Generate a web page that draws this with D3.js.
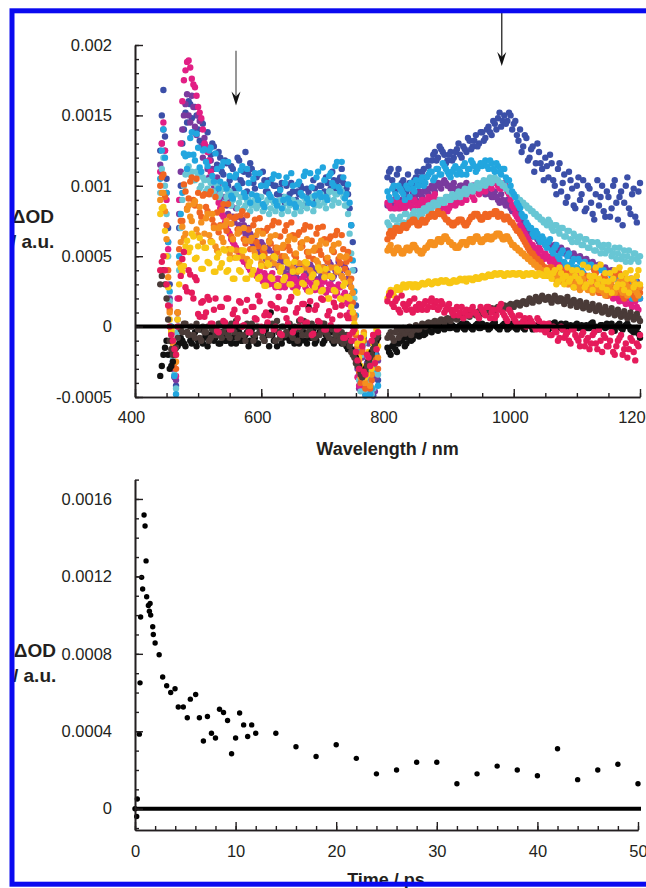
<!DOCTYPE html>
<html>
<head>
<meta charset="utf-8">
<script src="https://cdn.jsdelivr.net/npm/d3@7"></script>
<style>
  html, body { margin: 0; padding: 0; background: #fff; }
  svg { display: block; font-family: "Liberation Sans", Arial, Helvetica, sans-serif; }
</style>
</head>
<body>
<svg id="fig" width="646" height="888"></svg>
<script>
// ΔOD values below are given in units of 1e-5
const UNIT = 1e-5;

// Wavelength sampling of the two detector windows (nm); "B" grids are the interleaved pixels
const visWl = [
  440,445,450,455,460,465,470,475,480,485, 490,495,500,505,510,515,520,525,530,535,
  540,545,550,555,560,565,570,575,580,585, 590,595,600,605,610,615,620,625,630,635,
  640,645,650,655,660,665,670,675,680,685, 690,695,700,705,710,715,720,725,730,735,
  740,745,750,755,760,765,770,775,780,785];
const visWlB = [
  442.5,447.5,452.5,457.5,462.5,467.5,472.5,477.5,482.5,487.5, 492.5,497.5,502.5,507.5,512.5,517.5,522.5,527.5,532.5,537.5,
  542.5,547.5,552.5,557.5,562.5,567.5,572.5,577.5,582.5,587.5, 592.5,597.5,602.5,607.5,612.5,617.5,622.5,627.5,632.5,637.5,
  642.5,647.5,652.5,657.5,662.5,667.5,672.5,677.5,682.5,687.5, 692.5,697.5,702.5,707.5,712.5,717.5,722.5,727.5,732.5,737.5,
  742.5,747.5,752.5,757.5,762.5,767.5,772.5,777.5,782.5];
const nirWl = [
  800,805,810,815,820,825,830,835,840,845, 850,855,860,865,870,875,880,885,890,895,
  900,905,910,915,920,925,930,935,940,945, 950,955,960,965,970,975,980,985,990,995,
  1000,1005,1010,1015,1020,1025,1030,1035,1040,1045, 1050,1055,1060,1065,1070,1075,1080,1085,1090,1095,
  1100,1105,1110,1115,1120,1125,1130,1135,1140,1145, 1150,1155,1160,1165,1170,1175,1180,1185,1190,1195,
  1200];
const nirWlB = [
  802.5,807.5,812.5,817.5,822.5,827.5,832.5,837.5,842.5,847.5, 852.5,857.5,862.5,867.5,872.5,877.5,882.5,887.5,892.5,897.5,
  902.5,907.5,912.5,917.5,922.5,927.5,932.5,937.5,942.5,947.5, 952.5,957.5,962.5,967.5,972.5,977.5,982.5,987.5,992.5,997.5,
  1002.5,1007.5,1012.5,1017.5,1022.5,1027.5,1032.5,1037.5,1042.5,1047.5, 1052.5,1057.5,1062.5,1067.5,1072.5,1077.5,1082.5,1087.5,1092.5,1097.5,
  1102.5,1107.5,1112.5,1117.5,1122.5,1127.5,1132.5,1137.5,1142.5,1147.5, 1152.5,1157.5,1162.5,1167.5,1172.5,1177.5,1182.5,1187.5,1192.5,1197.5];

// Transient spectra, one colour per delay
const seriesColors = ["#3b4fa8","#7a3a9e","#e21f85","#68c6d4","#22a6df",
                      "#f06522","#f5901f","#f8c714","#111111","#4a3b38","#e51b5b"];

const visDarkBlue = [125,168,105,30,-25,-42,70,130,152,160, 148,156,140,146,130,138,122,128,115,120,
  108,116,104,112,106,118,102,124,108,112, 98,108,100,104,96,102,100,94,98,92,
  100,94,96,90,94,98,92,96,90,98, 94,100,96,102,98,104,100,106,102,98, 84,60,15,-34,-10,-46,-24,-48,-14,-38];
const visDarkBlueB = [150,135,70,0,-35,10,100,140,145,158, 138,150,132,144,126,118,130,112,124,110,
  118,100,114,98,120,104,110,96,116,102, 106,92,110,96,104,90,100,94,102,88,
  92,102,88,96,100,86,98,92,104,90, 100,92,106,96,110,98,104,112,96,94, 72,40,-22,-44,-8,-40,-30,-49,-20];
const nirDarkBlue = [106,112,100,108,98,104,96,102,100,106, 102,110,106,114,118,124,120,126,122,118,
  124,120,126,122,128,124,132,128,136,130, 138,134,142,136,144,148,142,150,146,150,
  144,136,140,128,134,120,128,116,124,112, 120,106,116,100,112,96,108,92,104,86,
  100,90,104,84,98,80,94,86,100,78, 92,84,104,76,96,88,106,80,98,74, 102];
const nirDarkBlueB = [110,104,96,112,102,100,108,98,104,110, 106,112,118,110,122,118,128,124,116,122,
  118,124,130,120,126,134,126,132,128,138, 132,140,138,146,140,152,146,144,152,140,
  146,132,124,136,118,126,110,130,116,104, 114,122,104,94,116,102,88,110,98,84,
  106,94,82,100,88,76,104,92,82,96, 78,100,88,92,72,100,84,94,78,96];

const visPurple = [115,140,95,20,-30,-38,80,140,158,150, 164,142,150,128,134,112,118,100,106,92,
  98,86,90,78,84,72,76,66,70,60, 64,56,60,50,56,46,52,44,48,40,
  46,38,44,36,42,34,40,36,42,34, 40,36,42,38,44,36,42,38,44,40, 30,10,-16,-44,-22,-48,-12,-38,-46,-24];
const visPurpleB = [130,125,60,-5,-36,5,110,150,165,145, 156,136,146,120,126,106,112,96,100,88,
  92,80,86,74,78,68,72,62,66,58, 60,52,58,48,54,44,50,42,46,38,
  42,36,40,34,44,32,38,44,36,40, 34,42,38,46,34,40,46,36,42,34, 22,0,-30,-8,-46,-26,-42,-18,-36];
const nirPurple = [86,90,84,88,90,86,92,88,94,90, 96,92,98,94,100,96,102,98,104,100,
  98,102,96,100,98,102,96,100,98,96, 100,94,98,92,96,90,94,88,90,84,
  86,80,78,74,70,68,64,66,60,62, 58,60,56,58,54,56,52,54,50,52,
  48,50,46,48,44,46,42,44,40,42, 38,40,36,38,34,36,32,34,30,32, 28];
const nirPurpleB = [88,86,90,84,88,90,86,92,90,94, 94,96,96,98,98,100,100,102,102,100,
  100,98,98,100,100,98,98,100,96,98, 96,96,94,92,92,88,90,86,88,82,
  82,80,76,72,68,66,66,62,60,60, 58,58,56,56,54,54,52,52,50,50,
  48,48,46,46,44,44,42,42,40,40, 38,38,36,36,34,34,32,32,30,30];

const visMagenta = [110,145,90,15,-20,-35,90,160,182,189, 176,170,156,148,130,124,110,102,92,84,
  78,72,66,60,56,52,48,46,42,40, 38,36,34,38,32,36,30,34,28,32,
  30,34,28,32,30,34,28,32,30,26, 30,28,32,26,30,28,24,28,22,18, 10,0,-24,-42,-16,-36,-46,-20,-30,-8];
const visMagentaB = [130,125,55,-5,-30,20,130,175,188,184, 172,164,152,140,128,118,106,96,88,80,
  74,68,62,58,54,50,46,44,40,38, 36,40,32,36,30,38,28,34,32,28,
  36,30,34,28,32,36,26,34,28,32, 26,32,24,30,26,22,30,20,24,16, 6,-10,-36,-12,-44,-28,-40,-6,-22];
const nirMagenta = [88,84,90,86,84,88,86,90,84,88, 86,90,88,92,90,94,90,84,88,82,
  86,90,88,92,94,90,96,92,98,94, 100,96,102,98,104,100,98,102,96,90,
  84,78,72,68,64,60,58,54,56,50, 52,48,50,44,46,40,44,38,42,36,
  40,34,38,30,36,28,34,26,32,24, 30,22,28,20,26,18,24,16,22,14, 20];
const nirMagentaB = [86,90,84,88,86,84,88,86,90,86, 88,86,90,88,92,86,82,86,84,84,
  88,86,90,88,92,94,94,90,96,96, 98,100,100,102,102,98,100,100,94,86,
  80,76,70,66,62,58,56,52,54,48, 50,46,48,42,44,38,42,36,40,34,
  38,32,36,28,34,26,32,24,30,22, 26,20,24,18,22,16,20,14,18,12];

const visCyan = [95,120,80,18,-22,-44,40,90,108,114, 110,104,108,100,104,98,102,96,100,94,
  98,92,96,90,94,88,92,86,90,86, 90,86,92,84,90,84,88,86,90,84,
  88,86,90,84,88,86,90,88,92,86, 90,94,88,92,96,90,94,98,92,86, 66,40,0,-38,-20,-45,-30,-48,-14,-34];
const visCyanB = [112,100,50,-4,-34,-4,70,100,112,108, 104,110,98,106,96,104,94,102,92,98,
  88,96,86,94,84,92,84,90,82,88, 84,92,82,88,80,90,82,88,80,92,
  82,90,80,88,82,92,84,90,82,94, 86,92,84,96,86,94,88,96,86,80, 52,20,-26,-46,-12,-40,-24,-44,-32];
const nirCyan = [74,70,76,72,78,74,80,76,80,78, 82,80,84,86,84,88,86,90,88,92,
  90,92,94,92,96,94,98,96,100,98, 102,100,104,102,106,104,102,100,98,96,
  94,92,90,88,86,84,82,80,78,76, 74,76,70,72,68,70,64,68,62,66,
  60,64,58,62,56,60,54,58,56,52, 58,50,56,52,48,54,50,46,52,48, 50];
const nirCyanB = [72,78,70,76,72,80,74,78,82,76, 80,84,82,86,88,86,90,88,92,90,
  94,92,96,94,98,96,100,98,102,100, 104,102,106,104,104,102,100,98,96,94,
  92,90,88,86,84,82,80,78,76,74, 72,74,68,72,66,70,64,68,60,64,
  62,58,62,56,60,54,60,52,58,54, 54,52,48,56,50,46,54,48,52,46];

const visSkyBlue = [105,140,95,25,-15,-48,50,95,121,122, 138,118,127,110,126,114,127,103,112,103,
  117,98,107,91,108,98,114,92,102,94, 109,90,100,85,102,92,108,86,97,90,
  106,88,100,85,103,93,110,88,99,93, 110,92,104,90,109,100,117,96,106,94, 88,47,8,-30,-14,-49,-26,-44,-20,-42];
const visSkyBlueB = [125,120,60,0,-35,0,80,123,112,134, 122,137,113,125,117,125,107,123,98,114,
  101,117,93,106,100,111,95,112,88,105, 93,109,87,100,94,105,89,107,84,102,
  91,109,87,101,95,107,91,109,87,106, 95,113,92,107,102,114,99,117,91,101, 72,25,-18,-40,-6,-36,-48,-10,-30];
const nirSkyBlue = [96,90,100,92,98,94,100,92,98,104, 100,106,102,108,110,106,112,108,114,110,
  106,112,108,110,114,108,112,116,110,114, 114,118,112,116,110,114,108,112,104,100,
  94,88,84,78,74,70,66,68,62,64, 58,60,54,56,50,52,46,50,44,48,
  42,46,38,44,36,42,34,40,32,38, 30,36,28,34,26,32,28,22,30,24, 20];
const nirSkyBlueB = [92,98,94,100,96,90,98,102,96,100, 104,100,106,110,104,112,108,116,112,108,
  110,114,112,108,116,112,118,114,112,116, 116,114,118,112,116,110,112,106,104,96,
  92,86,80,78,72,70,64,66,60,62, 56,62,52,58,48,54,44,52,46,42,
  48,40,46,36,44,34,42,30,40,32, 38,26,34,24,36,28,30,20,32,26];

const visOrangeRed = [100,108,72,12,-18,-30,55,75,96,91, 106,86,95,78,94,82,96,72,81,72,
  87,68,78,62,78,67,82,59,69,61, 76,57,68,52,70,59,75,53,64,56,
  72,54,65,49,67,57,72,50,61,54, 70,51,62,46,64,53,68,45,55,46, 48,17,-6,-32,-18,-44,-28,-38,-12,-30];
const visOrangeRedB = [106,92,40,-4,-26,10,75,101,84,103, 90,105,81,93,85,94,76,92,67,83,
  71,87,64,77,69,79,62,79,55,72, 60,77,54,68,61,72,56,74,50,68,
  57,74,51,65,59,69,53,71,48,66, 54,71,48,62,55,65,48,65,41,53, 34,8,-20,-40,-10,-34,-44,-22,-16];
const nirOrangeRed = [62,68,66,70,68,72,70,74,76,74, 72,76,74,78,80,78,82,80,78,76,
  74,72,74,76,74,72,76,78,80,78, 76,80,78,80,82,78,80,76,78,74,
  72,68,66,62,58,54,52,48,46,44, 42,40,42,38,36,40,34,38,32,36,
  30,34,28,36,26,32,38,24,30,34, 22,28,36,24,30,20,32,26,22,30, 24];
const nirOrangeRedB = [66,64,70,68,70,72,72,74,76,72, 74,74,76,78,80,80,80,80,76,74,
  72,74,76,76,72,74,78,80,80,76, 78,78,80,80,82,80,78,78,76,74,
  70,68,64,60,56,52,50,48,46,42, 40,42,38,40,36,38,36,34,34,30,
  32,30,34,28,32,40,26,28,36,22, 30,34,26,38,22,28,24,34,20,28];

const visOrange = [90,95,62,10,-12,-25,45,71,66,86, 75,89,65,74,66,80,61,70,54,71,
  60,75,52,62,54,69,50,61,45,63, 52,68,45,56,48,64,45,56,40,58,
  48,64,41,52,45,60,42,53,38,56, 45,61,39,49,42,58,39,50,34,50, 32,24,0,-24,-8,-40,-20,-34,-6,-22];
const visOrangeB = [95,82,35,-2,-20,10,60,63,83,78, 87,69,85,60,77,65,80,57,70,63,
  72,55,73,49,66,54,70,48,61,55, 65,49,66,43,60,49,65,43,56,50,
  61,44,62,39,56,45,62,40,54,47, 58,42,59,36,54,42,59,36,49,38, 28,6,-14,-36,-4,-28,-42,-16,-10];
const nirOrange = [54,58,52,56,54,52,56,54,58,56, 54,52,56,58,60,58,62,60,64,62,
  60,58,56,58,60,58,62,60,64,62, 60,62,64,62,64,66,64,62,64,60,
  58,56,54,52,50,48,46,44,42,40, 38,36,38,34,36,32,34,30,36,28,
  32,26,34,28,30,24,32,26,30,22, 28,32,24,30,26,34,22,28,32,24, 28];
const nirOrangeB = [56,54,54,56,52,54,56,56,58,54, 52,54,56,60,58,60,62,62,64,60,
  58,56,56,60,60,60,62,62,64,60, 62,64,62,64,66,66,62,64,62,58,
  56,54,52,50,48,46,44,42,40,38, 38,36,36,34,34,32,32,30,30,28,
  28,32,30,26,28,34,28,26,24,30, 30,26,28,32,24,30,28,26,30,22];

const visYellow = [80,85,50,5,-10,-20,30,39,57,53, 66,48,57,41,56,46,60,39,49,42,
  55,39,48,34,49,40,54,34,43,37, 50,34,43,29,45,35,50,29,39,33,
  46,30,39,25,40,31,46,25,35,28, 42,25,35,20,36,26,41,20,29,21, 20,10,-4,-22,-10,-36,-18,-30,-8,-14];
const visYellowB = [84,68,28,-3,-16,5,42,43,61,56, 64,49,63,41,56,45,60,39,52,45,
  54,40,55,34,49,39,54,34,46,40, 49,35,50,29,44,34,49,29,42,35,
  45,30,46,24,40,30,45,25,37,31, 40,26,41,20,35,25,40,19,31,21, 14,2,-12,-28,-6,-34,-22,-12,-2];
const nirYellow = [20,26,22,28,26,30,28,30,28,30, 29,31,30,32,30,32,31,33,32,32,
  31,33,32,34,33,32,34,33,35,34, 36,35,37,36,38,37,38,36,38,37,
  38,37,38,36,38,37,38,36,38,37, 36,38,34,40,32,38,30,42,34,28,
  40,32,44,30,36,26,42,34,28,38, 32,24,40,30,36,26,34,40,28,36, 30];
const nirYellowB = [24,24,26,26,28,28,30,30,30,28, 30,30,31,31,31,32,32,32,33,31,
  32,32,33,33,34,34,34,34,34,35, 35,36,36,37,37,38,37,37,37,38,
  37,38,37,37,37,38,37,37,37,36, 40,36,38,30,42,34,36,32,40,36,
  34,38,28,42,32,36,30,44,32,26, 38,34,28,42,30,38,24,34,30,40];

const visBlack = [-35,-20,-10,-30,-25,-15,-12,-10,-14,-6, -12,-4,-10,-2,-8,-14,-6,-10,-4,-12,
  -6,-10,-2,-8,-12,-4,-10,-6,-14,-2, -8,-12,-4,-10,-6,10,-10,-14,-6,-8,
  -4,-10,-8,-2,-12,-6,-10,14,-8,-12, -6,-2,-10,-8,-4,-12,-6,-10,-8,-14, -12,-18,-22,-28,-34,-30,-24,-18,-12,-8];
const visBlackB = [-28,-15,-20,-28,-20,-14,-8,-12,-4,-10, -8,-14,-2,-12,-6,-10,-2,-8,-12,-4,
  -10,-4,-12,-6,-2,-10,-8,-4,-10,-6, -12,-4,-8,-2,-14,-6,-10,-4,-12,-6,
  -8,-2,-12,-6,-10,-4,-12,-8,-2,-10, -4,-12,-6,-2,-10,-8,-4,-12,-10,-16, -16,-20,-26,-32,-32,-28,-20,-16,-10];
const nirBlack = [-15,-20,-12,-18,-10,-8,-12,-6,-9,-4, -7,-3,-5,-2,-4,-1,-3,0,-2,1,
  -1,0,-2,1,-1,2,0,-2,1,-1, 2,0,-2,1,3,-1,0,2,-2,1,
  0,-2,2,-1,1,3,-2,0,2,-1, 1,-2,0,3,-1,2,0,-3,1,-1,
  2,0,-2,1,-1,3,0,-2,1,-1, 0,2,-3,1,-1,0,2,-2,-4,-1, -8];
const nirBlackB = [-18,-14,-16,-12,-10,-14,-8,-10,-6,-6, -4,-6,-2,-3,-1,-2,1,-1,0,-1,
  1,-1,0,2,-2,1,-1,0,2,-1, 0,1,-1,2,0,-2,1,0,-1,2,
  -1,0,1,-2,2,0,-1,1,0,-2, 0,2,-1,0,1,-2,2,0,-1,1,
  -1,1,0,-1,2,0,-2,1,0,2, 1,-1,0,2,-2,1,0,-3,-2,-5];

const visBrown = [30,40,20,-10,-20,-15,0,-4,2,-6, 0,-8,-2,-10,-4,0,-8,-2,-6,2,
  -4,0,-8,-2,4,-6,0,-10,-2,2, -6,0,-4,-10,2,-6,-2,4,-8,0,
  -4,2,-8,-2,4,-6,0,-4,2,-8, 0,-4,2,-6,0,-10,-4,-8,-12,-6, -14,-20,-26,-30,-36,-32,-26,-20,-12,-6];
const visBrownB = [36,30,5,-16,-18,-8,-2,2,-4,0, -6,2,-8,0,-4,-10,-2,-6,2,-8,
  0,-6,2,-4,-8,0,-6,2,-4,-10, 0,-4,-8,0,-6,2,-10,-4,0,-6,
  2,-6,0,-10,-2,4,-6,-2,-8,0, -6,2,-4,-8,-2,-6,-10,-4,-8,-10, -18,-22,-28,-34,-34,-28,-22,-16,-8];
const nirBrown = [-8,-4,-10,-2,-6,-1,-4,0,-3,1, -2,2,0,3,1,4,2,5,3,6,
  4,7,5,8,6,9,7,10,8,11, 9,12,10,13,11,14,12,15,13,16,
  14,17,15,18,16,20,17,21,18,22, 19,21,17,22,18,20,16,21,15,19,
  14,18,13,17,12,16,11,15,10,14, 9,13,8,12,7,11,6,10,5,9, 4];
const nirBrownB = [-6,-8,-4,-8,-3,-5,-2,-6,-1,-2, 0,1,2,2,3,3,4,4,5,5,
  6,6,7,7,8,8,9,9,10,10, 11,11,12,12,13,13,14,14,15,15,
  16,16,17,17,18,18,19,19,20,20, 20,19,20,19,20,18,19,18,17,17,
  16,15,15,14,14,13,13,12,12,11, 11,10,10,9,9,8,8,7,7,6];

const visCrimson = [40,50,30,0,-10,-20,20,48,28,40, 24,35,9,17,7,21,2,12,-3,14,
  4,20,-2,9,2,18,0,11,-4,14, 6,22,0,8,3,16,-2,13,-5,12,
  6,18,-4,10,0,16,2,12,-6,12, 4,20,-2,8,1,17,-2,8,-8,8, -6,-4,-18,-30,-14,-34,-22,-10,-26,-4];
const visCrimsonB = [46,40,15,-6,-16,0,36,53,25,37, 20,33,7,18,10,19,2,20,-4,14,
  3,20,-2,12,6,17,1,19,-4,14, 5,18,-3,10,8,15,0,21,-6,12,
  2,21,-1,13,5,16,3,18,-5,15, 3,19,-2,11,5,14,-1,15,-8,6, -10,-2,-24,-8,-32,-20,-28,-6,-16];
const nirCrimson = [18,24,14,20,10,16,12,18,10,14, 16,12,18,14,20,16,12,18,10,14,
  12,8,14,10,6,12,8,14,10,6, 12,8,14,10,6,12,16,8,4,10,
  6,2,8,4,0,6,2,-2,4,0, -4,2,-6,-2,-10,0,-8,-4,-12,-2,
  -8,-14,-4,-10,-16,-6,-12,-2,-18,-8, -14,-4,-20,-10,-6,-16,-22,-8,-18,-12, -6];
const nirCrimsonB = [22,16,18,12,22,14,16,12,20,12, 14,16,12,18,14,18,14,16,12,16,
  10,12,8,14,10,8,12,10,8,14, 10,14,6,12,8,14,10,6,12,8,
  4,8,2,6,2,4,0,6,-2,2, -2,-6,0,-4,-8,-2,-6,-10,-2,-6,
  -10,-6,-14,-8,-12,-4,-16,-10,-6,-14, -10,-18,-14,-8,-20,-12,-16,-10,-24,-14];

// Kinetic trace (time in ps, ΔOD in 1e-5)
const kinTime = [0,0.17,0.23,0.43,0.5,0.56,0.66,0.76,0.9,1.0,
  1.1,1.16,1.33,1.43,1.5,1.56,1.76,1.82,2.0,2.4,
  2.75,3.15,3.55,3.98,4.3,4.8,5.2,5.5,6.03,6.4,
  6.8,7.2,7.6,8.0,8.4,8.8,9.2,9.6,10.0,10.4,
  10.8,11.2,11.6,12.0,14,16,18,20,22,24,
  26,28,30,32,34,36,38,40,42,44,46,48,50];
const kinOD = [0,-4,5,38.5,65,99,119.5,113.5,151.7,146,
  128,109.5,105,102,106,100,94,90,85.6,79.5,
  68,63.5,60,62,52.5,52.5,47,56.6,59,47,
  35,47.6,39,36.5,51.4,49.7,45.6,28.4,36.5,49.4,
  43.3,37.3,43.3,39,39,32,27,33,26,18,
  20,24,24,12.9,18,22,20,17,31,15,20,23,12.9];

// Axis ticks and labels
const topYTicks = [-0.0005, 0, 0.0005, 0.001, 0.0015, 0.002];
const topYLabels = ["-0.0005","0","0.0005","0.001","0.0015","0.002"];
const topXTicks = [400, 600, 800, 1000, 1200];
const topXLabels = ["400","600","800","1000","1200"];
const botYTicks = [0, 0.0004, 0.0008, 0.0012, 0.0016];
const botYLabels = ["0","0.0004","0.0008","0.0012","0.0016"];
const botXTicks = [0, 10, 20, 30, 40, 50];
const botXLabels = ["0","10","20","30","40","50"];

// Probe-wavelength markers (nm, ΔOD from → to)
const markers = [
  { wl: 560, from: 0.00196, to: 0.00157, shaft: "#6b6b6b" },
  { wl: 981, from: 0.00223, to: 0.00185, shaft: "#333333" }
];

const spectra = [
  { color: seriesColors[0], vis: visDarkBlue, visB: visDarkBlueB, nir: nirDarkBlue, nirB: nirDarkBlueB },
  { color: seriesColors[1], vis: visPurple, visB: visPurpleB, nir: nirPurple, nirB: nirPurpleB },
  { color: seriesColors[2], vis: visMagenta, visB: visMagentaB, nir: nirMagenta, nirB: nirMagentaB },
  { color: seriesColors[3], vis: visCyan, visB: visCyanB, nir: nirCyan, nirB: nirCyanB },
  { color: seriesColors[4], vis: visSkyBlue, visB: visSkyBlueB, nir: nirSkyBlue, nirB: nirSkyBlueB },
  { color: seriesColors[5], vis: visOrangeRed, visB: visOrangeRedB, nir: nirOrangeRed, nirB: nirOrangeRedB },
  { color: seriesColors[6], vis: visOrange, visB: visOrangeB, nir: nirOrange, nirB: nirOrangeB },
  { color: seriesColors[7], vis: visYellow, visB: visYellowB, nir: nirYellow, nirB: nirYellowB },
  { color: seriesColors[8], vis: visBlack, visB: visBlackB, nir: nirBlack, nirB: nirBlackB },
  { color: seriesColors[9], vis: visBrown, visB: visBrownB, nir: nirBrown, nirB: nirBrownB },
  { color: seriesColors[10], vis: visCrimson, visB: visCrimsonB, nir: nirCrimson, nirB: nirCrimsonB }
];

const svg = d3.select("#fig");
const INK = "#231f20";
const TICK_FONT = 16.5;
const TITLE_FONT = 18;
const YTITLE_FONT = 19;

const xTop = d3.scaleLinear().domain([400, 1200]).range([135, 640]);
const yTop = d3.scaleLinear().domain([-0.0005, 0.002]).range([397, 45]);
const xBot = d3.scaleLinear().domain([0, 50]).range([135, 638]);
const yBot = d3.scaleLinear().domain([-0.00011, 0.0017]).range([830, 479.6]);

const pair = (wl, vals) => wl.map((w, i) => [w, vals[i]]);

// ---------- spectra panel ----------
const gTop = svg.append("g");
spectra.forEach(s => {
  const pts = [].concat(pair(visWl, s.vis), pair(visWlB, s.visB), pair(nirWl, s.nir), pair(nirWlB, s.nirB));
  gTop.append("g").selectAll("circle").data(pts).join("circle")
    .attr("cx", d => xTop(d[0]))
    .attr("cy", d => yTop(d[1] * UNIT))
    .attr("r", 3.2)
    .attr("fill", s.color);
});

// zero line
gTop.append("line")
  .attr("x1", xTop(400)).attr("x2", xTop(1200) + 1)
  .attr("y1", yTop(0)).attr("y2", yTop(0))
  .attr("stroke", "#000").attr("stroke-width", 4);

function styleAxis(g) {
  g.select(".domain").attr("stroke", INK).attr("stroke-width", 1.6);
  g.selectAll(".tick line").attr("stroke", INK).attr("stroke-width", 1.4);
  g.selectAll(".tick text").attr("fill", INK).attr("font-size", TICK_FONT)
    .attr("font-family", '"Liberation Sans", Arial, sans-serif');
}

// top axes
const topYMinor = d3.range(-5, 21).map(i => i * 1e-4);
gTop.append("g").attr("transform", `translate(${xTop(400)},0)`)
  .call(d3.axisLeft(yTop).tickValues(topYMinor).tickSize(-4).tickSizeOuter(0).tickFormat(() => ""))
  .call(styleAxis);
gTop.append("g").attr("transform", `translate(${xTop(400)},0)`)
  .call(d3.axisLeft(yTop).tickValues(topYTicks).tickSize(-8).tickSizeOuter(0).tickPadding(23)
    .tickFormat((d, i) => topYLabels[i]))
  .call(styleAxis);

const topXMinor = d3.range(400, 1201, 50);
gTop.append("g").attr("transform", `translate(0,${yTop(-0.0005)})`)
  .call(d3.axisBottom(xTop).tickValues(topXMinor).tickSize(-4).tickSizeOuter(0).tickFormat(() => ""))
  .call(styleAxis);
gTop.append("g").attr("transform", `translate(0,${yTop(-0.0005)})`)
  .call(d3.axisBottom(xTop).tickValues(topXTicks).tickSize(-8).tickSizeOuter(0).tickPadding(14)
    .tickFormat((d, i) => topXLabels[i]))
  .call(styleAxis)
  .call(g => g.selectAll(".tick text").attr("dx", -4));

gTop.append("text")
  .attr("x", (xTop(400) + xTop(1200)) / 2).attr("y", 455)
  .attr("text-anchor", "middle").attr("font-weight", "bold")
  .attr("font-size", TITLE_FONT).attr("fill", INK)
  .text("Wavelength / nm");
gTop.append("text").attr("x", 54).attr("y", 223).attr("text-anchor", "end")
  .attr("font-weight", "bold").attr("font-size", YTITLE_FONT).attr("fill", INK).text("ΔOD");
gTop.append("text").attr("x", 11).attr("y", 248).attr("text-anchor", "start")
  .attr("font-weight", "bold").attr("font-size", YTITLE_FONT).attr("fill", INK).text("/ a.u.");

// arrows marking the probe wavelengths
markers.forEach(m => {
  const x = xTop(m.wl), y0 = yTop(m.from), y1 = yTop(m.to);
  gTop.append("line").attr("x1", x).attr("x2", x).attr("y1", y0).attr("y2", y1 - 8)
    .attr("stroke", m.shaft).attr("stroke-width", 1.4);
  gTop.append("path")
    .attr("d", `M${x},${y1} L${x - 4.5},${y1 - 14} L${x},${y1 - 9} L${x + 4.5},${y1 - 14} Z`)
    .attr("fill", "#111");
});

// ---------- kinetic panel ----------
const gBot = svg.append("g");
gBot.append("g").selectAll("circle").data(pair(kinTime, kinOD)).join("circle")
  .attr("cx", d => xBot(d[0]))
  .attr("cy", d => yBot(d[1] * UNIT))
  .attr("r", 2.7)
  .attr("fill", "#000");

gBot.append("line")
  .attr("x1", xBot(0)).attr("x2", xBot(50) + 3)
  .attr("y1", yBot(0)).attr("y2", yBot(0))
  .attr("stroke", "#000").attr("stroke-width", 4);

const botYMinor = d3.range(-1, 18).map(i => i * 1e-4);
gBot.append("g").attr("transform", `translate(${xBot(0)},0)`)
  .call(d3.axisLeft(yBot).tickValues(botYMinor).tickSize(-4).tickSizeOuter(0).tickFormat(() => ""))
  .call(styleAxis);
gBot.append("g").attr("transform", `translate(${xBot(0)},0)`)
  .call(d3.axisLeft(yBot).tickValues(botYTicks).tickSize(-8).tickSizeOuter(0).tickPadding(23)
    .tickFormat((d, i) => botYLabels[i]))
  .call(styleAxis);

const botXMinor = d3.range(0, 51, 2);
gBot.append("g").attr("transform", `translate(0,${yBot(-0.00011)})`)
  .call(d3.axisBottom(xBot).tickValues(botXMinor).tickSize(-4).tickSizeOuter(0).tickFormat(() => ""))
  .call(styleAxis);
gBot.append("g").attr("transform", `translate(0,${yBot(-0.00011)})`)
  .call(d3.axisBottom(xBot).tickValues(botXTicks).tickSize(-8).tickSizeOuter(0).tickPadding(15)
    .tickFormat((d, i) => botXLabels[i]))
  .call(styleAxis);

gBot.append("text")
  .attr("x", 386).attr("y", 886)
  .attr("text-anchor", "middle").attr("font-weight", "bold")
  .attr("font-size", TITLE_FONT).attr("fill", INK)
  .text("Time / ps");
gBot.append("text").attr("x", 56).attr("y", 657).attr("text-anchor", "end")
  .attr("font-weight", "bold").attr("font-size", YTITLE_FONT).attr("fill", INK).text("ΔOD");
gBot.append("text").attr("x", 13).attr("y", 682).attr("text-anchor", "start")
  .attr("font-weight", "bold").attr("font-size", YTITLE_FONT).attr("fill", INK).text("/ a.u.");

// ---------- outer frame ----------
svg.append("rect")
  .attr("x", 12).attr("y", 10.8).attr("width", 700).attr("height", 873.4)
  .attr("fill", "none").attr("stroke", "#0a0af0").attr("stroke-width", 5);
</script>
</body>
</html>
